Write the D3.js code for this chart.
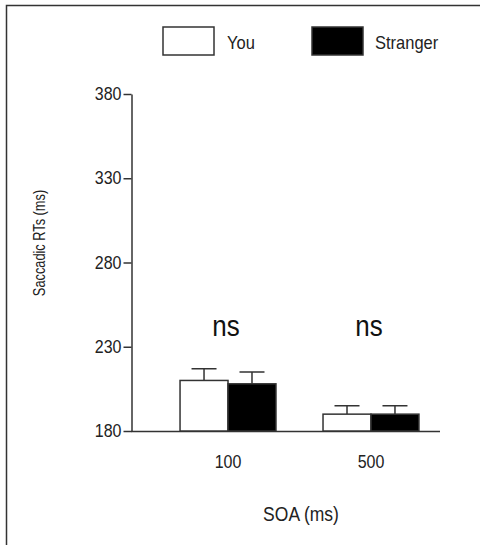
<!DOCTYPE html>
<html>
<head>
<meta charset="utf-8">
<script src="https://cdn.jsdelivr.net/npm/d3@7"></script>
<style>
  body { margin: 0; background: #fff; }
  svg { display: block; font-family: "Liberation Sans", Arial, sans-serif; }
</style>
</head>
<body>
<svg id="chart" width="480" height="545"></svg>
<script>
// data
var soa = ["100", "500"];
var series = ["You", "Stranger"];
var youMeans = [210, 190];
var youErr = [7, 5];
var strangerMeans = [208, 190];
var strangerErr = [7, 5];
var sigLabels = ["ns", "ns"];
var yTicks = [180, 230, 280, 330, 380];

var data = soa.map(function(s, i) {
	return [
		{soa: s, series: "You", value: youMeans[i], err: youErr[i]},
		{soa: s, series: "Stranger", value: strangerMeans[i], err: strangerErr[i]}
	];
});

var svg = d3.select("#chart");
var colors = {"You": "#fff", "Stranger": "#000"};
var stretch = 1.15; // source figure text is a little tall

function place(x, y) {
	return "translate(" + x + "," + y + ") scale(1," + stretch + ")";
}

// outer frame (only top and left visible in the crop)
svg.append("rect")
	.attr("x", 6.5).attr("y", 5.5)
	.attr("width", 520).attr("height", 600)
	.attr("fill", "none")
	.attr("stroke", "#333")
	.attr("stroke-width", 1.5);

var y = d3.scaleLinear()
	.domain([180, 380])
	.range([431, 94]);

var x = d3.scaleBand()
	.domain(soa)
	.range([131, 468])
	.paddingInner(0.329)
	.paddingOuter(0.343);

var xs = d3.scaleBand()
	.domain(series)
	.range([0, x.bandwidth()]);

// y axis
var yAxis = svg.append("g")
	.attr("transform", "translate(131.5,0)")
	.call(d3.axisLeft(y).tickValues(yTicks).tickSize(8).tickPadding(2).tickSizeOuter(0));
yAxis.select(".domain").attr("stroke", "#333").attr("stroke-width", 1.5);
yAxis.selectAll(".tick line").attr("stroke", "#333").attr("stroke-width", 1.5);
yAxis.selectAll("text").style("font-size", "16px").attr("fill", "#222")
	.attr("dy", "0.3em")
	.attr("transform", "scale(1," + stretch + ")");

// x baseline
svg.append("line")
	.attr("x1", 131).attr("x2", 440)
	.attr("y1", y(180) + 0.5).attr("y2", y(180) + 0.5)
	.attr("stroke", "#333")
	.attr("stroke-width", 1.5);

// x category labels
svg.selectAll(".xlab")
	.data(soa)
	.enter().append("text")
	.attr("class", "xlab")
	.attr("transform", d => place(x(d) + x.bandwidth() / 2, 468))
	.attr("text-anchor", "middle")
	.style("font-size", "16px")
	.attr("fill", "#222")
	.text(d => d);

var groups = svg.selectAll(".grp")
	.data(data)
	.enter().append("g")
	.attr("class", "grp")
	.attr("transform", d => "translate(" + x(d[0].soa) + ",0)");

// error bars (drawn first, bars cover lower part)
groups.selectAll(".err")
	.data(d => d)
	.enter().append("path")
	.attr("class", "err")
	.attr("fill", "none")
	.attr("stroke", "#333")
	.attr("stroke-width", 1.5)
	.attr("d", function(d) {
		var cx = xs(d.series) + xs.bandwidth() / 2;
		var top = y(d.value + d.err);
		return "M" + cx + "," + y(d.value) + "V" + top + "M" + (cx - 12.5) + "," + top + "H" + (cx + 12.5);
	});

groups.selectAll(".bar")
	.data(d => d)
	.enter().append("rect")
	.attr("class", "bar")
	.attr("x", d => xs(d.series))
	.attr("width", xs.bandwidth())
	.attr("y", d => y(d.value))
	.attr("height", d => y(180) - y(d.value))
	.attr("fill", d => colors[d.series])
	.attr("stroke", "#333")
	.attr("stroke-width", 1.5);

// ns labels
svg.selectAll(".sig")
	.data(soa)
	.enter().append("text")
	.attr("class", "sig")
	.attr("transform", d => place(x(d) + x.bandwidth() / 2 - 2, 336))
	.attr("text-anchor", "middle")
	.style("font-size", "26px")
	.attr("fill", "#111")
	.text((d, i) => sigLabels[i]);

// axis titles
svg.append("text")
	.attr("transform", "translate(45,243) rotate(-90) scale(0.8,1)")
	.attr("text-anchor", "middle")
	.style("font-size", "16px")
	.attr("fill", "#222")
	.text("Saccadic RTs (ms)");

svg.append("text")
	.attr("transform", place(301, 521))
	.attr("text-anchor", "middle")
	.style("font-size", "17.5px")
	.attr("fill", "#222")
	.text("SOA (ms)");

// legend
var legX = [163, 312];
var legend = svg.selectAll(".leg")
	.data(series)
	.enter().append("g")
	.attr("class", "leg")
	.attr("transform", (d, i) => "translate(" + legX[i] + ",27)");

legend.append("rect")
	.attr("width", 51)
	.attr("height", 28)
	.attr("fill", d => colors[d])
	.attr("stroke", "#333")
	.attr("stroke-width", 1.5);

legend.append("text")
	.attr("transform", (d, i) => place(i === 0 ? 64 : 63, 22))
	.style("font-size", "16.5px")
	.attr("fill", "#222")
	.text(d => d);
</script>
</body>
</html>
